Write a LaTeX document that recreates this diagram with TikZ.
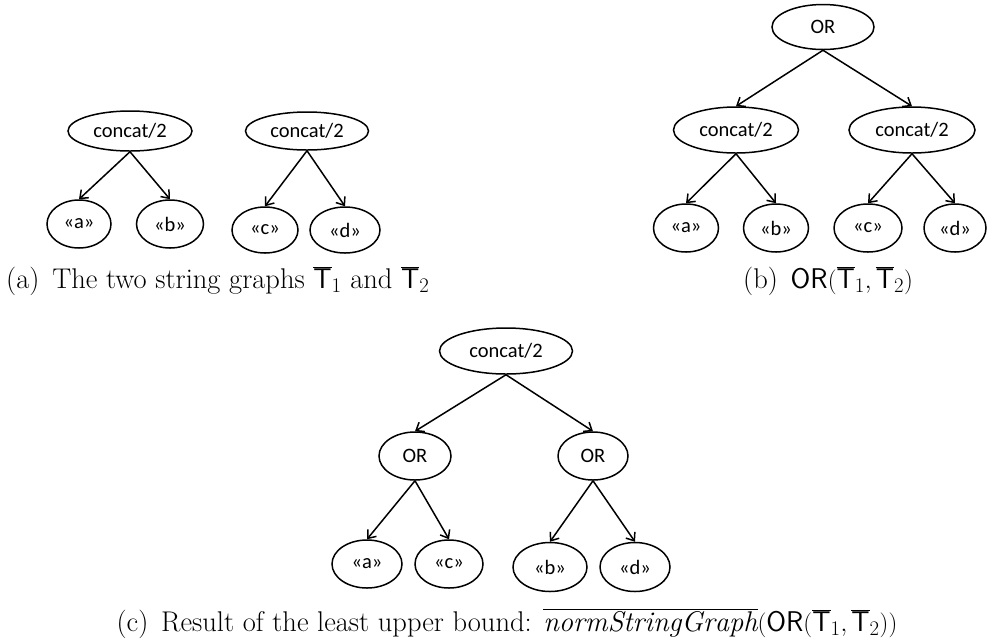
\documentclass[tikz,border=0pt]{standalone}
\usepackage{fontspec}
\newfontfamily\calfont{Carlito}
\usetikzlibrary{shapes.geometric,arrows.meta}
\tikzset{
  tnode/.style={draw, ellipse, line width=1.5pt, inner sep=0pt, font=\calfont\fontsize{20.5}{24}\selectfont},
  edge/.style={line width=1.5pt, -{Straight Barb[length=7pt,width=11pt,line width=1.5pt]}},
  capt/.style={inner sep=0pt, font=\fontsize{28.5}{33}\selectfont}
}
\begin{document}
\begin{tikzpicture}[x=1pt,y=-1pt]
\useasboundingbox (0,0) rectangle (987,641);
% (a) left tree
\node[tnode, minimum width=124pt, minimum height=40pt] (ca1) at (130,131) {concat/2};
\node[tnode, minimum width=64pt, minimum height=48pt] (aa) at (79,224) {«a»};
\node[tnode, minimum width=67pt, minimum height=48pt] (ab) at (170,224) {«b»};
\node[tnode, minimum width=123pt, minimum height=38pt] (ca2) at (307,131) {concat/2};
\node[tnode, minimum width=66pt, minimum height=46pt] (ac) at (265,230) {«c»};
\node[tnode, minimum width=70pt, minimum height=46pt] (ad) at (345,230) {«d»};
\draw[edge] (ca1.south) -- (aa.north);
\draw[edge] (ca1.south) -- (ab.north);
\draw[edge] (ca2.south) -- (ac.north);
\draw[edge] (ca2.south) -- (ad.north);
\node[capt, anchor=base west] (capa) at (6,288) {(a)\hspace{0.45em}The two string graphs $\overline{\mathsf{T}}_1$ and $\overline{\mathsf{T}}_2$};
% (b)
\node[tnode, minimum width=102pt, minimum height=45pt] (bor) at (823,27) {OR};
\node[tnode, minimum width=125pt, minimum height=46pt] (bcl) at (736,130) {concat/2};
\node[tnode, minimum width=126pt, minimum height=46pt] (bcr) at (912,130) {concat/2};
\node[tnode, minimum width=65pt, minimum height=48pt] (ba) at (686,228) {«a»};
\node[tnode, minimum width=65pt, minimum height=48pt] (bb) at (776,228) {«b»};
\node[tnode, minimum width=68pt, minimum height=48pt] (bc) at (868,228) {«c»};
\node[tnode, minimum width=62pt, minimum height=48pt] (bd) at (955,228) {«d»};
\draw[edge] (bor.south) -- (bcl.north);
\draw[edge] (bor.south) -- (bcr.north);
\draw[edge] (bcl.south) -- (ba.north);
\draw[edge] (bcl.south) -- (bb.north);
\draw[edge] (bcr.south) -- (bc.north);
\draw[edge] (bcr.south) -- (bd.north);
\node[capt, anchor=base] (capb) at (828,288) {(b)\hspace{0.45em}$\mathsf{OR}(\overline{\mathsf{T}}_1, \overline{\mathsf{T}}_2)$};
% (c)
\node[tnode, minimum width=133pt, minimum height=46pt] (cc) at (506,351) {concat/2};
\node[tnode, minimum width=72pt, minimum height=48pt] (col) at (415,456) {OR};
\node[tnode, minimum width=70pt, minimum height=48pt] (cor) at (593,456) {OR};
\node[tnode, minimum width=70pt, minimum height=48pt] (ca) at (367,564) {«a»};
\node[tnode, minimum width=68pt, minimum height=48pt] (ccc) at (449,564) {«c»};
\node[tnode, minimum width=74pt, minimum height=49pt] (cb) at (550,567) {«b»};
\node[tnode, minimum width=70pt, minimum height=49pt] (cd) at (635,567) {«d»};
\draw[edge] (cc.south) -- (col.north);
\draw[edge] (cc.south) -- (cor.north);
\draw[edge] (col.south) -- (ca.north);
\draw[edge] (col.south) -- (ccc.north);
\draw[edge] (cor.south) -- (cb.north);
\draw[edge] (cor.south) -- (cd.north);
\node[capt, anchor=base] (capc) at (507,631) {(c)\hspace{0.45em}Result of the least upper bound: $\overline{\mathit{normStringGraph}}(\mathsf{OR}(\overline{\mathsf{T}}_1, \overline{\mathsf{T}}_2))$};
\end{tikzpicture}
\end{document}
